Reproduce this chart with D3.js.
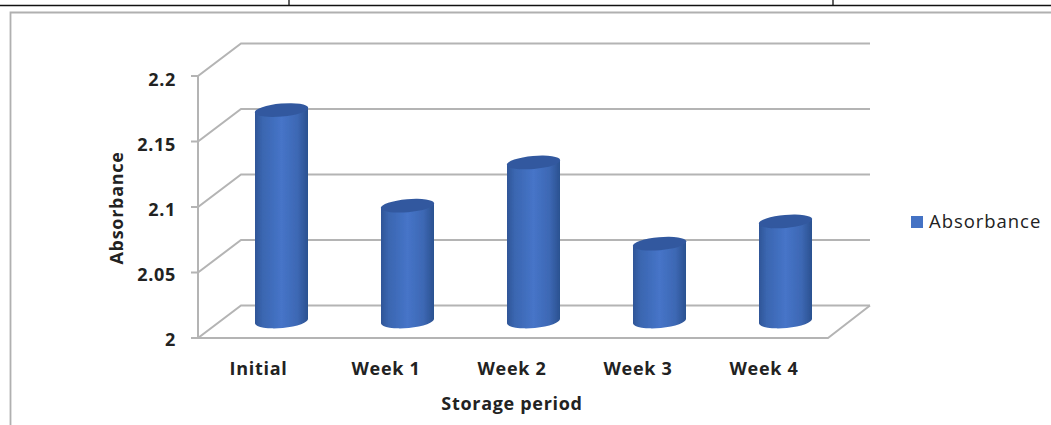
<!DOCTYPE html>
<html>
<head>
<meta charset="utf-8">
<script src="https://cdn.jsdelivr.net/npm/d3@7/dist/d3.min.js"></script>
<style>
html,body{margin:0;padding:0;background:#fff;}
svg{display:block;}
text{font-family:"Open Sans",Lato,sans-serif;fill:#222;}
</style>
</head>
<body>
<svg id="chart" width="1051" height="425"></svg>
<script>
const categories = ["Initial", "Week 1", "Week 2", "Week 3", "Week 4"];
const absorbance = [2.161, 2.088, 2.121, 2.059, 2.076];
const yTicks = [2, 2.05, 2.1, 2.15, 2.2];
const yTickLabels = ["2", "2.05", "2.1", "2.15", "2.2"];
const seriesName = "Absorbance";
const xTitle = "Storage period";
const yTitle = "Absorbance";

const svg = d3.select("#chart");

// Front plane of the 3D plot box and its receding depth
const y = d3.scaleLinear().domain([2, 2.2]).range([338, 76]);
const yLabel = d3.scaleLinear().domain([2, 2.2]).range([339.5, 80]);
const x = d3.scaleBand().domain(categories).range([198, 828]);
const depth = {dx: 43, dy: -32.5};

// Cylinders sit part-way into the floor
const barOffset = {dx: 20.5, dy: -17};
const barRadius = 26.5;
const capRy = 6.5;
const capTilt = -5;

const labelFont = {size: 18, spacing: 0.7};

const defs = svg.append("defs");
const grad = defs.append("linearGradient").attr("id", "cyl").attr("x1", 0).attr("x2", 1).attr("y1", 0).attr("y2", 0);
[[0, "#2f5597"], [0.14, "#3a66b0"], [0.5, "#4674c8"], [0.8, "#3d68b4"], [1, "#2b5190"]].forEach(([o, c]) =>
  grad.append("stop").attr("offset", o).attr("stop-color", c));

const soft = defs.append("filter").attr("id", "soft");
soft.append("feGaussianBlur").attr("stdDeviation", 0.4);

// Page furniture above the chart: table rule and cell dividers, chart frame
const frame = svg.append("g").attr("fill", "none");
frame.append("path").attr("d", "M0,5.5H1051M289,0V5M833,0V5").attr("stroke", "#111").attr("stroke-width", 1.3);
frame.append("path").attr("d", "M10.5,425V12.5H1051").attr("stroke", "#b0b0b0").attr("stroke-width", 1.8);

// Walls and gridlines
const grid = svg.append("g").attr("fill", "none").attr("stroke", "#b4b4b4").attr("stroke-width", 2);
yTicks.forEach(t => {
  const p = d3.path();
  p.moveTo(x.range()[0] - 7, y(t));
  p.lineTo(x.range()[0], y(t));
  p.lineTo(x.range()[0] + depth.dx, y(t) + depth.dy);
  p.lineTo(x.range()[1] + depth.dx - 1, y(t) + depth.dy);
  grid.append("path").attr("d", p.toString());
});
grid.append("path").attr("d", `M${x.range()[0]},${y(2)}V${y(2.2)}`);
grid.append("path").attr("d", `M${x.range()[0]},${y(2)}H${x.range()[1]}L${x.range()[1] + depth.dx - 1},${y(2) + depth.dy}`);

// Shared style for the bold chart labels
const boldLabel = sel => sel
  .attr("font-size", labelFont.size)
  .attr("font-weight", 700)
  .attr("letter-spacing", labelFont.spacing);

// Value-axis labels
svg.append("g").selectAll("text").data(yTicks).join("text")
  .attr("x", 176).attr("y", d => yLabel(d)).attr("dy", "0.36em")
  .attr("text-anchor", "end").call(boldLabel)
  .text((d, i) => yTickLabels[i]);

// Cylinders: body with round base, then a tilted cap
const bars = svg.append("g").attr("filter", "url(#soft)").selectAll("g").data(categories).join("g")
  .attr("transform", d => `translate(${x(d) + x.bandwidth() / 2 + barOffset.dx},0)`);
bars.append("path")
  .attr("fill", "url(#cyl)")
  .attr("d", (d, i) => {
    const top = y(absorbance[i]) + barOffset.dy;
    const base = y(2) + barOffset.dy;
    const r = barRadius;
    return `M${-r},${top + 2.5}L${r},${top - 2.5}L${r},${base - 2.5}A${r},${capRy + 0.5} ${capTilt} 0 1 ${-r},${base + 2.5}Z`;
  });
bars.append("ellipse")
  .attr("fill", "#32599f")
  .attr("rx", barRadius + 0.3).attr("ry", capRy)
  .attr("transform", (d, i) => `translate(0,${y(absorbance[i]) + barOffset.dy}) rotate(${capTilt})`);

// Category labels
svg.append("g").selectAll("text").data(categories).join("text")
  .attr("x", (d, i) => x(d) + x.bandwidth() / 2 - (i === 0 ? 2.5 : 1)).attr("y", 375)
  .attr("text-anchor", "middle").call(boldLabel)
  .text(d => d);

// Axis titles
svg.append("text").attr("x", 512).attr("y", 410).attr("text-anchor", "middle")
  .call(boldLabel).text(xTitle);
svg.append("text").attr("transform", "translate(123,208) rotate(-90)").attr("text-anchor", "middle")
  .call(boldLabel).text(yTitle);

// Legend
svg.append("rect").attr("x", 911).attr("y", 216).attr("width", 12).attr("height", 12).attr("fill", "#4472c4");
svg.append("text").attr("x", 929).attr("y", 228).attr("font-size", 18.5).attr("letter-spacing", 0.95).text(seriesName);
</script>
</body>
</html>
